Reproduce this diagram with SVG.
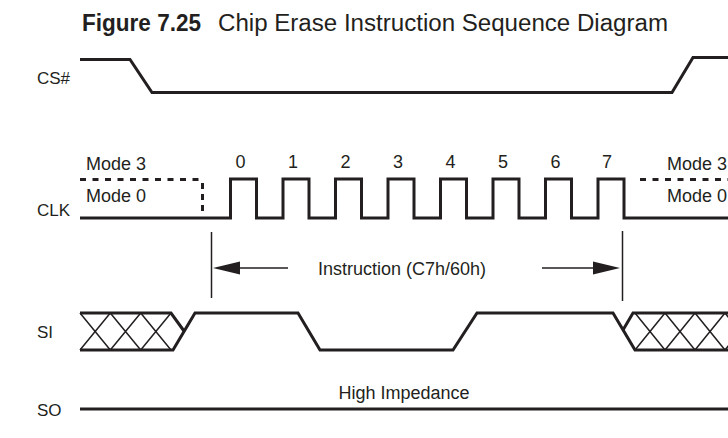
<svg xmlns="http://www.w3.org/2000/svg" width="728" height="438" viewBox="0 0 728 438">
<style>
text{font-family:"Liberation Sans",Arial,sans-serif;fill:#231f20}
.lbl{font-size:17px}
.t{font-size:18px}
.sig{fill:none;stroke:#231f20;stroke-width:3;stroke-linejoin:miter}
.thin{fill:none;stroke:#231f20;stroke-width:1.5}
.dot{fill:none;stroke:#231f20;stroke-width:3;stroke-dasharray:6 6.5}
.ah{fill:#231f20}
</style>
<rect width="728" height="438" fill="#fff"/>
<g id="title">
<text x="82" y="31" style="font-size:23px"><tspan font-weight="bold" textLength="119" lengthAdjust="spacingAndGlyphs">Figure 7.25</tspan><tspan x="218" textLength="450" lengthAdjust="spacingAndGlyphs">Chip Erase Instruction Sequence Diagram</tspan></text>
</g>
<g id="cs">
<text class="lbl" x="37" y="84">CS#</text>
<path class="sig" d="M80,59.5 H130 L152,92.5 H672 L693,57.5 H728"/>
</g>
<g id="clk">
<text class="lbl" x="37" y="216">CLK</text>
<text class="t" x="86" y="170">Mode 3</text>
<text class="t" x="86" y="202">Mode 0</text>
<text class="t" x="727" y="170" text-anchor="end">Mode 3</text>
<text class="t" x="727" y="202" text-anchor="end">Mode 0</text>
<path class="dot" d="M80,179.5 H203"/>
<path class="dot" d="M202.5,183 V216" style="stroke-dasharray:6 5"/>
<path class="dot" d="M640,179.5 H728"/>
<path class="sig" d="M80,218 H230.5 V179 H256.5 V218 H283 V179 H309 V218 H335.5 V179 H361.5 V218 H388 V179 H414 V218 H440.5 V179 H466.5 V218 H493 V179 H519 V218 H545.5 V179 H571.5 V218 H598 V179 H624 V218 H728"/>
<g class="t" text-anchor="middle">
<text x="240.5" y="168">0</text>
<text x="293" y="168">1</text>
<text x="345.5" y="168">2</text>
<text x="398" y="168">3</text>
<text x="450.5" y="168">4</text>
<text x="503" y="168">5</text>
<text x="555.5" y="168">6</text>
<text x="607" y="168">7</text>
</g>
</g>
<g id="si">
<text class="lbl" x="37" y="338">SI</text>
<path class="thin" d="M80,313 L110.3,350 M80,350 L110.3,313 M110.3,313 L140.7,350 M110.3,350 L140.7,313 M140.7,313 L171,350 M140.7,350 L171,313"/>
<path class="thin" d="M635,350 L665,313 M635,313 L665,350 M665,313 L695,350 M665,350 L695,313 M695,313 L725,350 M695,350 L725,313 M725,313 L755,350 M725,350 L755,313"/>
<path class="sig" d="M80,313 H171 L184,331"/>
<path class="sig" d="M80,350 H173 L195,313 H298 L320,350 H453 L477,313 H613 L635,350 H728"/>
<path class="sig" d="M728,313 H633 L623,330"/>
</g>
<g id="so">
<text class="lbl" x="37" y="416">SO</text>
<text class="t" x="404" y="399" text-anchor="middle">High Impedance</text>
<path class="sig" d="M80,409 H728"/>
</g>
<g id="connectors">
<path class="thin" d="M211.5,232 V298"/>
<path class="thin" d="M622.5,231 V301"/>
<path class="thin" d="M238,268 H288"/>
<polygon class="ah" points="213,268 240,261.5 240,274.5"/>
<path class="thin" d="M542,268 H595"/>
<polygon class="ah" points="620,268 593,261.5 593,274.5"/>
<text class="t" x="318" y="275">Instruction (C7h/60h)</text>
</g>
</svg>
